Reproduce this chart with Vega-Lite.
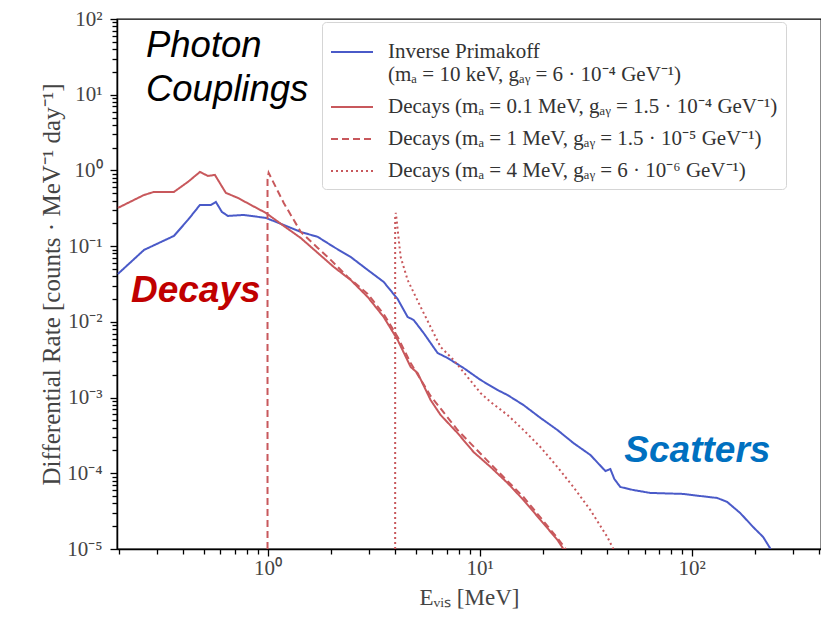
{
  "$schema": "https://vega.github.io/schema/vega-lite/v6.json",
  "width": 704,
  "height": 530,
  "autosize": {"type": "none"},
  "padding": {"left": 117, "top": 19, "right": 0, "bottom": 69},
  "background": "white",
  "config": {
    "view": {"stroke": "#000", "strokeWidth": 1.3},
    "font": "Liberation Serif"
  },
  "resolve": {"axis": {"x": "independent", "y": "independent"}},
  "datasets": {
    "curves": [
      {"s": "A", "i": 0, "x": 0.197, "y": 0.043},
      {"s": "A", "i": 1, "x": 0.2615, "y": 0.0891},
      {"s": "A", "i": 2, "x": 0.3144, "y": 0.1135},
      {"s": "A", "i": 3, "x": 0.3619, "y": 0.1365},
      {"s": "A", "i": 4, "x": 0.4212, "y": 0.2218},
      {"s": "A", "i": 5, "x": 0.4799, "y": 0.35},
      {"s": "A", "i": 6, "x": 0.5406, "y": 0.35},
      {"s": "A", "i": 7, "x": 0.5706, "y": 0.3837},
      {"s": "A", "i": 8, "x": 0.6092, "y": 0.2831},
      {"s": "A", "i": 9, "x": 0.6502, "y": 0.2506},
      {"s": "A", "i": 10, "x": 0.7734, "y": 0.2582},
      {"s": "A", "i": 11, "x": 0.9817, "y": 0.236},
      {"s": "A", "i": 12, "x": 1.193, "y": 0.1905},
      {"s": "A", "i": 13, "x": 1.435, "y": 0.1541},
      {"s": "A", "i": 14, "x": 1.726, "y": 0.1325},
      {"s": "A", "i": 15, "x": 2.053, "y": 0.0975},
      {"s": "A", "i": 16, "x": 2.469, "y": 0.0719},
      {"s": "A", "i": 17, "x": 2.968, "y": 0.0485},
      {"s": "A", "i": 18, "x": 3.53, "y": 0.0337},
      {"s": "A", "i": 19, "x": 4.11, "y": 0.02},
      {"s": "A", "i": 20, "x": 4.58, "y": 0.01161},
      {"s": "A", "i": 21, "x": 4.889, "y": 0.01059},
      {"s": "A", "i": 22, "x": 5.448, "y": 0.00713},
      {"s": "A", "i": 23, "x": 6.342, "y": 0.00388},
      {"s": "A", "i": 24, "x": 7.069, "y": 0.00333},
      {"s": "A", "i": 25, "x": 8.409, "y": 0.00246},
      {"s": "A", "i": 26, "x": 10.11, "y": 0.00171},
      {"s": "A", "i": 27, "x": 12.16, "y": 0.001259},
      {"s": "A", "i": 28, "x": 13.55, "y": 0.001081},
      {"s": "A", "i": 29, "x": 16.12, "y": 0.000797},
      {"s": "A", "i": 30, "x": 19.38, "y": 0.000539},
      {"s": "A", "i": 31, "x": 23.3, "y": 0.000373},
      {"s": "A", "i": 32, "x": 27.72, "y": 0.000251},
      {"s": "A", "i": 33, "x": 33.33, "y": 0.0001746},
      {"s": "A", "i": 34, "x": 39.23, "y": 0.0001071},
      {"s": "A", "i": 35, "x": 41.4, "y": 0.000114},
      {"s": "A", "i": 36, "x": 43.24, "y": 0.0000841},
      {"s": "A", "i": 37, "x": 46.15, "y": 0.0000659},
      {"s": "A", "i": 38, "x": 53.15, "y": 0.0000601},
      {"s": "A", "i": 39, "x": 63.9, "y": 0.000055},
      {"s": "A", "i": 40, "x": 91.39, "y": 0.0000534},
      {"s": "A", "i": 41, "x": 109.9, "y": 0.0000501},
      {"s": "A", "i": 42, "x": 132.2, "y": 0.0000472},
      {"s": "A", "i": 43, "x": 147.3, "y": 0.0000418},
      {"s": "A", "i": 44, "x": 169.6, "y": 0.0000299},
      {"s": "A", "i": 45, "x": 195.3, "y": 0.0000195},
      {"s": "A", "i": 46, "x": 217.7, "y": 0.0000144},
      {"s": "A", "i": 47, "x": 236, "y": 0.00001},

      {"s": "B", "i": 0, "x": 0.197, "y": 0.32},
      {"s": "B", "i": 1, "x": 0.2615, "y": 0.474},
      {"s": "B", "i": 2, "x": 0.2913, "y": 0.52},
      {"s": "B", "i": 3, "x": 0.3619, "y": 0.52},
      {"s": "B", "i": 4, "x": 0.4212, "y": 0.705},
      {"s": "B", "i": 5, "x": 0.4799, "y": 0.955},
      {"s": "B", "i": 6, "x": 0.5234, "y": 0.845},
      {"s": "B", "i": 7, "x": 0.5646, "y": 0.873},
      {"s": "B", "i": 8, "x": 0.636, "y": 0.505},
      {"s": "B", "i": 9, "x": 0.7246, "y": 0.434},
      {"s": "B", "i": 10, "x": 0.8343, "y": 0.35},
      {"s": "B", "i": 11, "x": 0.9817, "y": 0.275},
      {"s": "B", "i": 12, "x": 1.193, "y": 0.185},
      {"s": "B", "i": 13, "x": 1.435, "y": 0.128},
      {"s": "B", "i": 14, "x": 1.726, "y": 0.0813},
      {"s": "B", "i": 15, "x": 2.053, "y": 0.0531},
      {"s": "B", "i": 16, "x": 2.469, "y": 0.0357},
      {"s": "B", "i": 17, "x": 2.968, "y": 0.0213},
      {"s": "B", "i": 18, "x": 3.53, "y": 0.01161},
      {"s": "B", "i": 19, "x": 4.11, "y": 0.00577},
      {"s": "B", "i": 20, "x": 4.732, "y": 0.00254},
      {"s": "B", "i": 21, "x": 5.105, "y": 0.00211},
      {"s": "B", "i": 22, "x": 5.877, "y": 0.000929},
      {"s": "B", "i": 23, "x": 6.551, "y": 0.000589},
      {"s": "B", "i": 24, "x": 7.878, "y": 0.00034},
      {"s": "B", "i": 25, "x": 9.37, "y": 0.000191},
      {"s": "B", "i": 26, "x": 11.27, "y": 0.0001211},
      {"s": "B", "i": 27, "x": 13.55, "y": 0.0000745},
      {"s": "B", "i": 28, "x": 16.12, "y": 0.0000444},
      {"s": "B", "i": 29, "x": 19.38, "y": 0.0000242},
      {"s": "B", "i": 30, "x": 23.3, "y": 0.0000132},
      {"s": "B", "i": 31, "x": 24.87, "y": 0.00001},

      {"s": "C", "i": 0, "x": 1.0, "y": 0.00001},
      {"s": "C", "i": 1, "x": 1.0, "y": 0.75},
      {"s": "C", "i": 2, "x": 1.012, "y": 0.93},
      {"s": "C", "i": 3, "x": 1.193, "y": 0.372},
      {"s": "C", "i": 4, "x": 1.435, "y": 0.1541},
      {"s": "C", "i": 5, "x": 1.726, "y": 0.0946},
      {"s": "C", "i": 6, "x": 1.987, "y": 0.0658},
      {"s": "C", "i": 7, "x": 2.389, "y": 0.0392},
      {"s": "C", "i": 8, "x": 2.968, "y": 0.0234},
      {"s": "C", "i": 9, "x": 3.53, "y": 0.0127},
      {"s": "C", "i": 10, "x": 4.11, "y": 0.00633},
      {"s": "C", "i": 11, "x": 4.732, "y": 0.00286},
      {"s": "C", "i": 12, "x": 5.877, "y": 0.00105},
      {"s": "C", "i": 13, "x": 7.878, "y": 0.000373},
      {"s": "C", "i": 14, "x": 11.27, "y": 0.0001327},
      {"s": "C", "i": 15, "x": 16.12, "y": 0.0000486},
      {"s": "C", "i": 16, "x": 23.3, "y": 0.000014},
      {"s": "C", "i": 17, "x": 25.5, "y": 0.00001},

      {"s": "D", "i": 0, "x": 4.0, "y": 0.00001},
      {"s": "D", "i": 1, "x": 4.0, "y": 0.25},
      {"s": "D", "i": 2, "x": 4.03, "y": 0.275},
      {"s": "D", "i": 3, "x": 4.246, "y": 0.0719},
      {"s": "D", "i": 4, "x": 4.58, "y": 0.0357},
      {"s": "D", "i": 5, "x": 5.274, "y": 0.01574},
      {"s": "D", "i": 6, "x": 5.877, "y": 0.00857},
      {"s": "D", "i": 7, "x": 6.551, "y": 0.00466},
      {"s": "D", "i": 8, "x": 7.543, "y": 0.00314},
      {"s": "D", "i": 9, "x": 8.779, "y": 0.00187},
      {"s": "D", "i": 10, "x": 10.11, "y": 0.00115},
      {"s": "D", "i": 11, "x": 11.27, "y": 0.000875},
      {"s": "D", "i": 12, "x": 13.55, "y": 0.000589},
      {"s": "D", "i": 13, "x": 16.12, "y": 0.000373},
      {"s": "D", "i": 14, "x": 19.38, "y": 0.000222},
      {"s": "D", "i": 15, "x": 23.3, "y": 0.0001211},
      {"s": "D", "i": 16, "x": 27.72, "y": 0.0000659},
      {"s": "D", "i": 17, "x": 33.33, "y": 0.0000327},
      {"s": "D", "i": 18, "x": 40.09, "y": 0.0000144},
      {"s": "D", "i": 19, "x": 42.78, "y": 0.00001}
    ],
    "photon": [
      {"t": "Photon", "x": 0.267, "y": 31.6},
      {"t": "Couplings", "x": 0.267, "y": 8.28}
    ],
    "decays": [
      {"t": "Decays", "x": 0.227, "y": 0.01833}
    ],
    "scatters": [
      {"t": "Scatters", "x": 48.2, "y": 0.000141}
    ]
  },
  "layer": [
    {
      "data": {"name": "curves"},
      "mark": {"type": "line", "strokeWidth": 2, "clip": true},
      "encoding": {
        "x": {
          "field": "x", "type": "quantitative",
          "scale": {"type": "log", "domain": [0.195, 408], "nice": false},
          "axis": {
            "orient": "bottom",
            "title": null,
            "values": [0.2,0.3,0.4,0.5,0.6,0.7,0.8,0.9,2,3,4,5,6,7,8,9,20,30,40,50,60,70,80,90,200,300,400],
            "labels": false,
            "grid": false,
            "domainColor": "#000",
            "domainWidth": 1.5,
            "tickColor": "#000",
            "tickWidth": 1.3,
            "tickSize": 5
          }
        },
        "y": {
          "field": "y", "type": "quantitative",
          "scale": {"type": "log", "domain": [0.00001, 100], "nice": false},
          "axis": {
            "orient": "left",
            "title": null,
            "values": [0.00002,0.00003,0.00004,0.00005,0.00006,0.00007,0.00008,0.00009,0.0002,0.0003,0.0004,0.0005,0.0006,0.0007,0.0008,0.0009,0.002,0.003,0.004,0.005,0.006,0.007,0.008,0.009,0.02,0.03,0.04,0.05,0.06,0.07,0.08,0.09,0.2,0.3,0.4,0.5,0.6,0.7,0.8,0.9,2,3,4,5,6,7,8,9,20,30,40,50,60,70,80,90],
            "labels": false,
            "grid": false,
            "domainColor": "#000",
            "domainWidth": 1.5,
            "tickColor": "#000",
            "tickWidth": 1.3,
            "tickSize": 5
          }
        },
        "order": {"field": "i", "type": "quantitative"},
        "color": {
          "field": "s", "type": "nominal",
          "scale": {"domain": ["A", "B", "C", "D"], "range": ["#4a5ac8", "#c8585c", "#c8585c", "#c8585c"]},
          "legend": {
            "orient": "none", "legendX": 205, "legendY": 3, "title": null,
            "symbolType": "stroke", "symbolSize": 1764, "symbolStrokeWidth": 2,
            "labelFont": "Liberation Serif", "labelFontSize": 21, "labelColor": "#333",
            "labelLimit": 700, "labelOffset": 14, "rowPadding": -3, "padding": 8,
            "fillColor": "rgba(255,255,255,0.9)", "strokeColor": "#d5d5d5", "cornerRadius": 4,
            "labelExpr": "datum.label == 'A' ? ['Inverse Primakoff', '(mₐ = 10 keV, gₐᵧ = 6 · 10⁻⁴ GeV⁻¹)'] : datum.label == 'B' ? 'Decays (mₐ = 0.1 MeV, gₐᵧ = 1.5 · 10⁻⁴ GeV⁻¹)' : datum.label == 'C' ? 'Decays (mₐ = 1 MeV, gₐᵧ = 1.5 · 10⁻⁵ GeV⁻¹)' : 'Decays (mₐ = 4 MeV, gₐᵧ = 6 · 10⁻⁶ GeV⁻¹)'"
          }
        },
        "strokeDash": {
          "field": "s", "type": "nominal",
          "scale": {"domain": ["A", "B", "C", "D"], "range": [[1, 0], [1, 0], [7, 4], [2, 3]]},
          "legend": {
            "orient": "none", "legendX": 205, "legendY": 3, "title": null,
            "symbolType": "stroke", "symbolSize": 1764, "symbolStrokeWidth": 2,
            "labelFont": "Liberation Serif", "labelFontSize": 21, "labelColor": "#333",
            "labelLimit": 700, "labelOffset": 14, "rowPadding": -3, "padding": 8,
            "fillColor": "rgba(255,255,255,0.9)", "strokeColor": "#d5d5d5", "cornerRadius": 4,
            "labelExpr": "datum.label == 'A' ? ['Inverse Primakoff', '(mₐ = 10 keV, gₐᵧ = 6 · 10⁻⁴ GeV⁻¹)'] : datum.label == 'B' ? 'Decays (mₐ = 0.1 MeV, gₐᵧ = 1.5 · 10⁻⁴ GeV⁻¹)' : datum.label == 'C' ? 'Decays (mₐ = 1 MeV, gₐᵧ = 1.5 · 10⁻⁵ GeV⁻¹)' : 'Decays (mₐ = 4 MeV, gₐᵧ = 6 · 10⁻⁶ GeV⁻¹)'"
          }
        }
      }
    },
    {
      "data": {"name": "photon"},
      "mark": {"type": "text", "align": "left", "baseline": "alphabetic", "font": "Liberation Sans", "fontStyle": "italic", "fontSize": 36.5, "color": "#000"},
      "encoding": {
        "x": {
          "field": "x", "type": "quantitative",
          "axis": {
            "orient": "bottom",
            "title": "Eᵥᵢₛ [MeV]",
            "values": [1, 10, 100],
            "labelExpr": "['10⁻⁵','10⁻⁴','10⁻³','10⁻²','10⁻¹','10⁰','10¹','10²'][round(log(datum.value)/LN10)+5]",
            "labelOverlap": false,
            "labelFlush": false,
            "grid": false,
            "domain": false,
            "tickColor": "#000",
            "tickWidth": 1.3,
            "tickSize": 7,
            "labelFont": "Liberation Serif",
            "labelFontSize": 21,
            "labelColor": "#444",
            "labelPadding": 1,
            "titleFont": "Liberation Serif",
            "titleFontSize": 23,
            "titleFontWeight": "normal",
            "titleColor": "#444",
            "titlePadding": 8
          }
        },
        "y": {
          "field": "y", "type": "quantitative",
          "axis": {
            "orient": "left",
            "title": "Differential Rate [counts · MeV⁻¹ day⁻¹]",
            "values": [0.00001, 0.0001, 0.001, 0.01, 0.1, 1, 10, 100],
            "labelExpr": "['10⁻⁵','10⁻⁴','10⁻³','10⁻²','10⁻¹','10⁰','10¹','10²'][round(log(datum.value)/LN10)+5]",
            "labelOverlap": false,
            "labelFlush": false,
            "grid": false,
            "domain": false,
            "tickColor": "#000",
            "tickWidth": 1.3,
            "tickSize": 7,
            "labelFont": "Liberation Serif",
            "labelFontSize": 21,
            "labelColor": "#444",
            "labelPadding": 8,
            "titleFont": "Liberation Serif",
            "titleFontSize": 25,
            "titleFontWeight": "normal",
            "titleColor": "#444",
            "titlePadding": 2
          }
        },
        "text": {"field": "t"}
      }
    },
    {
      "data": {"name": "decays"},
      "mark": {"type": "text", "align": "left", "baseline": "alphabetic", "font": "Liberation Sans", "fontStyle": "italic", "fontWeight": "bold", "fontSize": 37, "color": "#c00000"},
      "encoding": {
        "x": {"field": "x", "type": "quantitative", "axis": null},
        "y": {"field": "y", "type": "quantitative", "axis": null},
        "text": {"field": "t"}
      }
    },
    {
      "data": {"name": "scatters"},
      "mark": {"type": "text", "align": "left", "baseline": "alphabetic", "font": "Liberation Sans", "fontStyle": "italic", "fontWeight": "bold", "fontSize": 37, "color": "#0070c0"},
      "encoding": {
        "x": {"field": "x", "type": "quantitative", "axis": null},
        "y": {"field": "y", "type": "quantitative", "axis": null},
        "text": {"field": "t"}
      }
    }
  ]
}
